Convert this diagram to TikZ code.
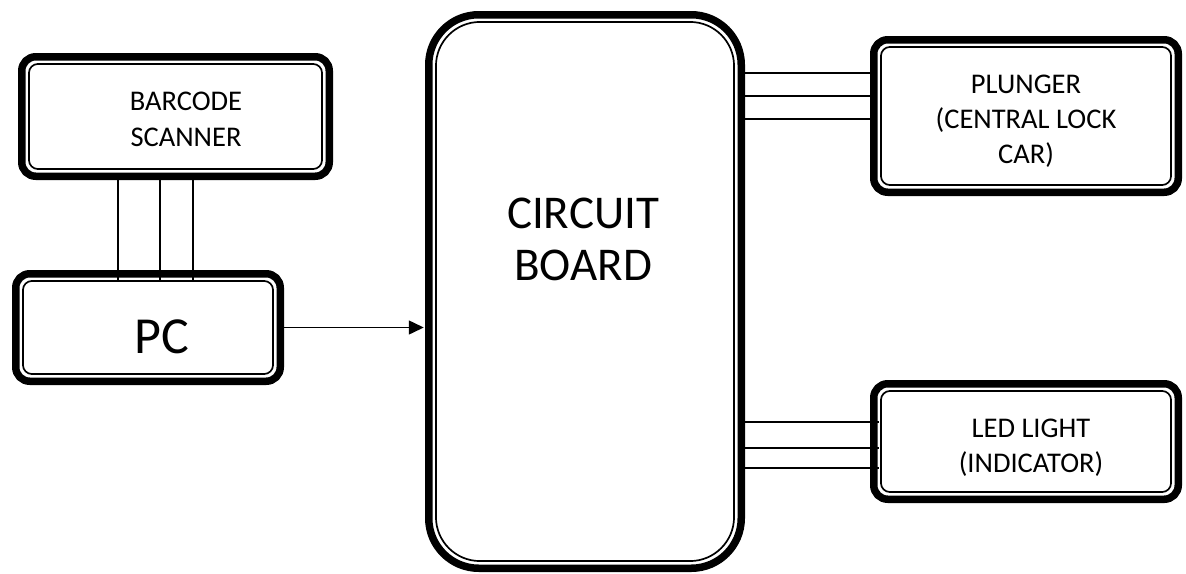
\documentclass[tikz,border=0pt]{standalone}
\usepackage{fontspec}
\setmainfont{Carlito}
\usetikzlibrary{arrows.meta}

\begin{document}
\begin{tikzpicture}[x=1pt, y=-1pt,
  >={Triangle[length=15pt, width=14pt]},
  box/.style    = {draw, line width=7.5pt, rounded corners=14pt, outer sep=0pt, inner sep=0pt, fill=white},
  inline/.style = {line width=1.7pt, rounded corners=9pt},
  wire/.style   = {line width=1.3pt},
  arr/.style    = {->, line width=1.5pt, shorten >=5pt},
  lbl/.style    = {font=\fontsize{28.5}{36}\selectfont, align=center, anchor=base, inner sep=0pt},
]
  \useasboundingbox (0,0) rectangle (1186,573);

  % blocks
  \node[box, minimum width=307.5, minimum height=119.5] (bcs) at (175.5,116.5) {};
  \node[box, minimum width=264.5, minimum height=107.5] (pc)  at (148,327.5) {};
  \node[box, minimum width=312.5, minimum height=553.5, rounded corners=50pt] (brd) at (585,291.5) {};
  \node[box, minimum width=304.5, minimum height=152.5] (plg) at (1026,116) {};
  \node[box, minimum width=304.5, minimum height=115.5] (led) at (1026,441.5) {};

  % inner thin border
  \foreach \n in {bcs,pc,plg,led}
    \draw[inline] ([shift={(7.2pt,-7.2pt)}]\n.north west) rectangle ([shift={(-7.2pt,7.2pt)}]\n.south east);
  \draw[inline, rounded corners=44pt] ([shift={(7.2pt,-7.2pt)}]brd.north west) rectangle ([shift={(-7.2pt,7.2pt)}]brd.south east);

  % labels (base = last line)
  \node[lbl] (bcst) at (186,146) {BARCODE\\SCANNER};
  \node[lbl, font=\fontsize{52}{60}\selectfont] (pct) at (162,353) {PC};
  \node[lbl, font=\fontsize{47}{52}\selectfont] (brdt) at (583,280) {CIRCUIT\\BOARD};
  \node[lbl, font=\fontsize{28.5}{35}\selectfont] (plgt) at (1026,163) {PLUNGER\\(CENTRAL LOCK\\CAR)};
  \node[lbl, font=\fontsize{28.5}{35}\selectfont] (ledt) at (1031,472) {LED LIGHT\\(INDICATOR)};

  % wires
  \foreach \dx in {-57.5,-15.5,17.5}
    \draw[wire] ([xshift=\dx pt]bcs.south) -- ([xshift=\dx pt, yshift=-7pt]pc.north -| bcs.south);
  \foreach \dy in {43,20,-3}
    \draw[wire] ([yshift=\dy pt]plg.west -| brd.east) -- ([yshift=\dy pt]plg.west);
  \foreach \dy in {19.5,-6.5,-26.5}
    \draw[wire] ([yshift=\dy pt]led.west -| brd.east) -- ([yshift=\dy pt, xshift=5pt]led.west);

  \draw[arr] (pc.east) -- (pc.east -| brd.west);
\end{tikzpicture}
\end{document}
